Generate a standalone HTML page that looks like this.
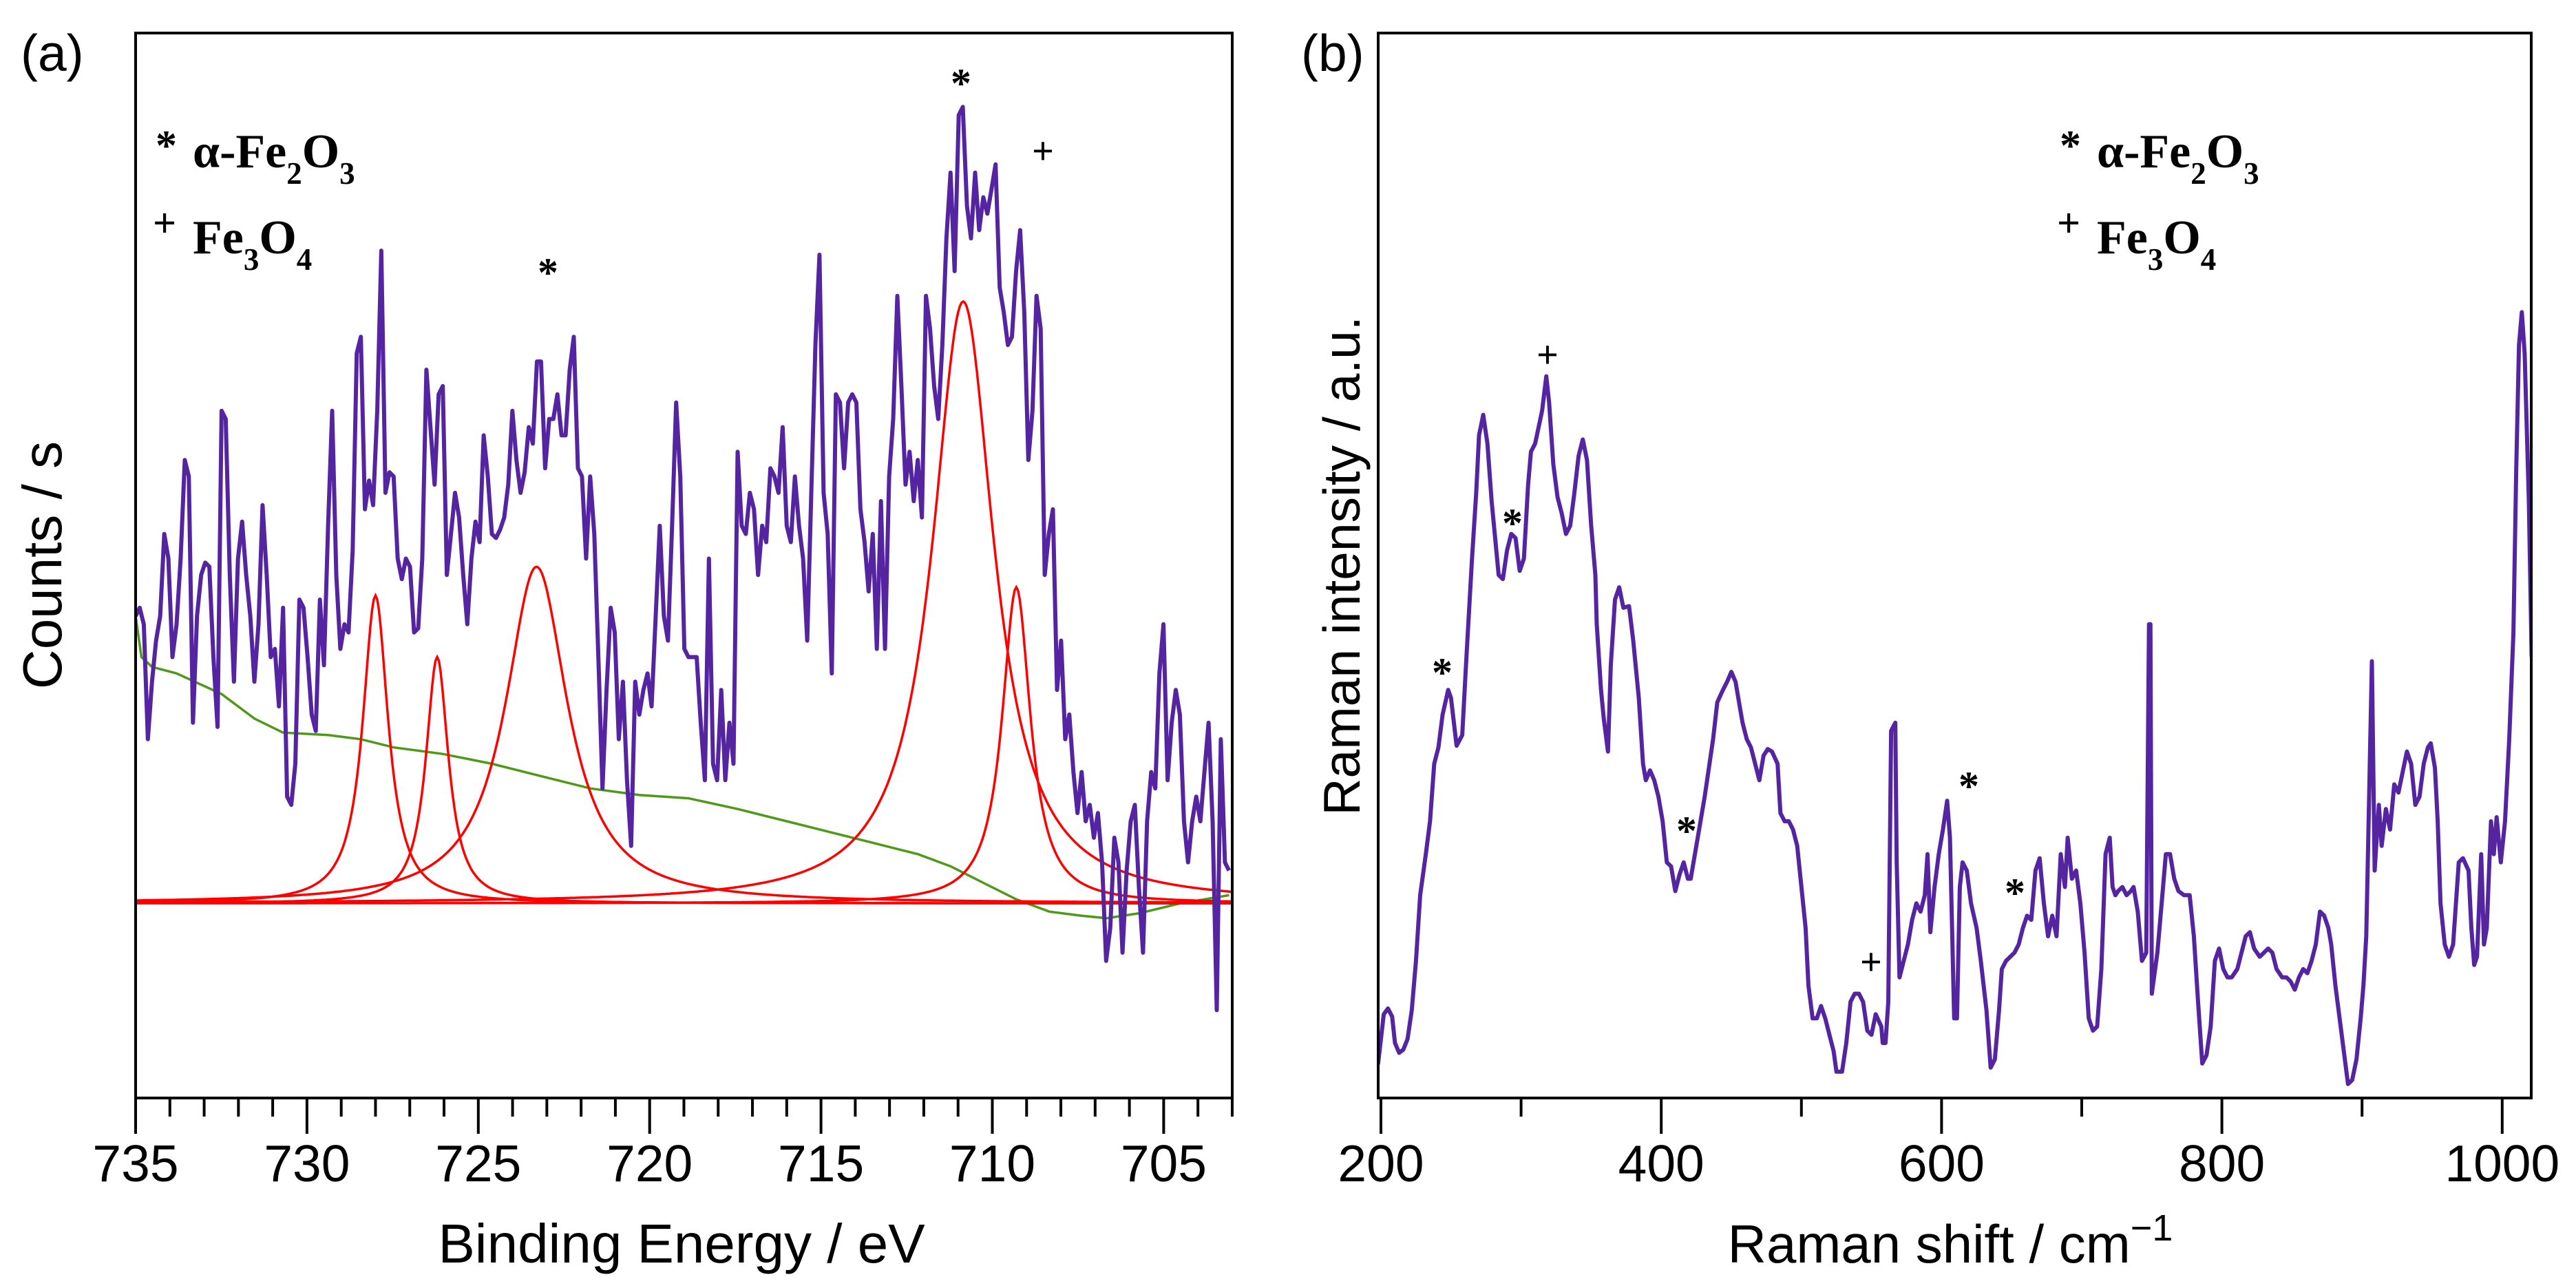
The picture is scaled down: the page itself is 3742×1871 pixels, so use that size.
<!DOCTYPE html>
<html><head><meta charset="utf-8"><style>
html,body{margin:0;padding:0;background:#fff;}
svg{display:block;}
text{font-family:"Liberation Sans",sans-serif;}
.leg{font-family:"Liberation Serif",serif;font-weight:bold;}
</style></head><body>
<svg id="chart" width="3742" height="1871" viewBox="0 0 3742 1871" xmlns="http://www.w3.org/2000/svg">
<rect x="0" y="0" width="3742" height="1871" fill="#fff"/>
<defs><clipPath id="clipA"><rect x="197" y="48" width="1593" height="1547"/></clipPath><clipPath id="clipB"><rect x="2002" y="48" width="1675" height="1547"/></clipPath></defs>
<g id="pa"></g>
<g id="pb"></g>
</svg>
<script>
// ---------- Panel (a) XPS data ----------
const xpsStart = 735, xpsStep = 0.1195;
const xpsCounts = [587,597,577,437,507,557,587,687,657,537,577,657,777,757,457,587,637,652,647,537,452,837,827,637,507,657,702,637,587,507,577,722,637,537,547,477,597,367,357,407,607,597,537,467,447,607,527,697,837,637,547,577,567,667,907,927,717,752,722,837,1032,737,762,757,657,632,657,647,567,572,657,887,817,747,857,867,637,687,737,707,637,577,657,702,677,807,757,687,682,692,707,747,837,777,737,762,817,797,897,897,767,827,827,857,807,807,887,927,767,757,657,757,687,537,377,497,597,567,437,507,387,307,507,467,497,517,477,587,697,587,557,697,847,757,547,537,537,537,457,387,657,407,387,497,387,457,407,787,697,687,737,717,637,697,677,767,757,737,817,697,677,757,697,657,557,737,917,1027,737,687,517,857,847,767,847,857,847,717,677,617,687,547,727,547,757,827,977,867,747,787,727,777,707,977,937,867,827,917,1047,1127,1007,1197,1207,1087,1047,1127,1057,1097,1077,1107,1137,987,957,917,927,1007,1057,957,777,837,977,937,637,687,717,497,557,437,467,397,347,397,337,357,317,347,287,167,207,317,287,177,277,337,357,257,177,337,397,377,517,577,387,457,497,467,337,287,337,367,337,397,457,337,107,437,287,277];
const peakCenters = [728.0, 726.2, 723.3, 710.85, 709.3];
const peakHeights = [375, 300, 410, 733, 385];
const peakFwhm = [0.9, 0.8, 2.2, 2.2, 1.0];
const fitBaseline = 237;
const bgEnergy = [735.0,734.83,734.52,733.8,732.49,731.53,730.70,729.38,728.43,727.47,726.04,724.60,723.17,721.73,720.30,718.87,717.43,716.0,714.56,713.13,712.17,711.21,710.26,709.30,708.34,707.39,706.67,705.71,704.52,703.09];
const bgCounts = [587,537,525,517,492,462,445,442,437,427,419,407,392,377,369,365,352,337,322,307,297,282,262,242,227,222,219,225,237,247];
const xpsTicks = [735,730,725,720,715,710,705];

// ---------- Panel (b) Raman data ----------
const ramanShift = [196,198,202,205,208,210,213,216,219,222,225,228,232,235,238,241,244,248,250,254,258,261,265,268,270,273,276,279,284,287,290,293,296,299,302,305,307,310,315,318,320,323,326,329,332,335,338,341,344,347,350,353,354,357,359,362,364,367,370,373,377,380,384,387,389,392,395,398,401,404,407,410,413,416,419,421,424,427,431,434,437,440,444,447,450,453,456,458,461,464,467,470,473,476,479,483,485,488,491,494,497,500,503,505,508,511,514,517,520,523,525,529,532,535,538,541,544,547,550,553,557,558,560,562,564,567,568,570,573,576,579,582,585,588,590,592,595,598,601,604,606,609,611,613,615,618,621,625,628,632,635,638,641,643,646,649,652,655,658,661,664,667,670,673,676,679,682,685,688,690,693,696,699,702,705,708,711,714,717,720,722,724,726,729,732,735,737,740,743,746,748,749,750,754,757,760,763,766,769,773,777,780,783,786,789,792,795,798,801,804,807,811,814,817,820,823,827,830,833,836,839,843,846,849,852,855,858,861,864,867,870,873,876,878,881,884,887,890,893,896,899,901,903,904,907,909,912,914,917,920,923,926,929,932,935,938,941,944,947,949,952,954,956,959,962,965,967,969,972,976,978,980,982,985,987,989,992,994,996,999,1002,1005,1008,1010,1012,1014,1016,1019,1021];
const ramanInt = [47,42,102,109,99,67,55,59,72,107,167,247,297,337,407,427,467,497,487,429,442,537,657,737,807,832,797,727,637,632,667,687,682,642,657,747,787,797,837,879,847,772,732,712,687,697,737,782,802,777,697,637,577,497,462,422,527,607,622,597,599,557,487,407,387,399,387,367,337,287,282,252,272,287,267,267,297,327,367,402,437,482,497,507,519,507,477,457,437,427,407,387,417,425,422,407,347,337,337,327,307,257,207,137,97,97,112,97,77,57,32,32,67,117,127,127,117,82,77,102,87,67,67,117,447,457,287,147,167,187,217,237,227,247,297,202,257,297,327,362,317,97,97,257,287,277,237,207,167,107,37,47,107,157,167,172,177,187,207,222,217,277,292,237,197,222,197,297,257,317,267,277,237,177,97,82,87,157,297,317,257,247,252,257,247,252,257,227,167,177,577,577,127,177,237,297,297,267,252,247,247,197,117,42,52,87,167,182,157,147,147,157,177,197,202,182,172,177,182,177,157,147,147,142,132,147,157,152,167,187,227,222,207,187,137,97,57,17,22,47,97,137,197,277,532,277,357,307,352,327,382,372,397,422,407,357,367,407,427,432,402,337,237,187,172,187,237,287,292,277,207,162,172,297,187,207,337,297,342,287,337,437,567,767,917,957,907,727,537,387,347,337];
const ramanTicks = [200,400,600,800,1000];
const ramanMinor = [300,500,700,900];

const NS = 'http://www.w3.org/2000/svg';
function mk(parent, tag, attrs, txt){
  const e = document.createElementNS(NS, tag);
  for (const k in attrs) e.setAttribute(k, attrs[k]);
  if (txt !== undefined) e.textContent = txt;
  parent.appendChild(e);
  return e;
}
const Y0 = 1595, Y1 = 48, VMAX = 1297;
const yS = v => Y0 - (v / VMAX) * (Y0 - Y1);
const FS = 75;

// ===== Panel A =====
const pa = document.getElementById('pa');
const aL = 197, aR = 1790;
const xA = e => 197 + (735 - e) * 49.78;

let d = bgEnergy.map((e, i) => (i ? 'L' : 'M') + xA(e).toFixed(1) + ' ' + yS(bgCounts[i]).toFixed(1)).join(' ');
let bg = mk(pa, 'path', {d: d, fill: 'none', stroke: '#4e9a18', 'stroke-width': 3.5, 'clip-path': 'url(#clipA)'});



peakCenters.forEach((c, k) => {
  let pts = [];
  for (let e = 735; e >= 702.9; e -= 0.05) {
    const u = (e - c) / (peakFwhm[k] / 2);
    const v = fitBaseline + peakHeights[k] / (1 + u * u);
    pts.push((pts.length ? 'L' : 'M') + xA(e).toFixed(1) + ' ' + yS(v).toFixed(1));
  }
  const p = mk(pa, 'path', {d: pts.join(' '), fill: 'none', stroke: '#ff0000', 'stroke-width': 3.5, 'clip-path': 'url(#clipA)'});
  
  
});

d = xpsCounts.map((v, i) => (i ? 'L' : 'M') + xA(xpsStart - i * xpsStep).toFixed(1) + ' ' + yS(v).toFixed(1)).join(' ');
let sp = mk(pa, 'path', {d: d, fill: 'none', stroke: '#5524a0', 'stroke-width': 6, 'stroke-linejoin': 'round', 'clip-path': 'url(#clipA)'});



let fr = mk(pa, 'rect', {x: aL, y: Y1, width: aR - aL, height: Y0 - Y1, fill: 'none', stroke: '#000', 'stroke-width': 4});


for (let e = 735; e >= 703; e--) {
  const major = (e % 5 === 0);
  mk(pa, 'line', {x1: xA(e), x2: xA(e), y1: Y0, y2: Y0 + (major ? 52 : 27), stroke: '#000', 'stroke-width': 4});
}
xpsTicks.forEach(t => {
  const tl = mk(pa, 'text', {x: xA(t), y: 1716, 'font-size': FS, 'text-anchor': 'middle'}, String(t));
  
  
});
let xt = mk(pa, 'text', {x: 990, y: 1834, 'font-size': 80, 'text-anchor': 'middle'}, 'Binding Energy / eV');


let yt = mk(pa, 'text', {x: 0, y: 0, 'font-size': 80, 'text-anchor': 'middle', transform: 'translate(89,821) rotate(-90)'}, 'Counts / s');


let la = mk(pa, 'text', {x: 30, y: 103, 'font-size': FS}, '(a)');



function legend(g, x, suffix){
  const l1 = mk(g, 'text', {x: x - 54, y: 232, 'font-size': 62, class: 'leg'}, '*');
  
  
  const t1 = mk(g, 'text', {x: x, y: 243, 'font-size': 70, class: 'leg'});
  
  
  t1.innerHTML = 'α-Fe<tspan font-size="45" dy="24">2</tspan><tspan dy="-24">O</tspan><tspan font-size="45" dy="24">3</tspan>';
  const l2 = mk(g, 'text', {x: x - 58, y: 344, 'font-size': 60, class: 'leg', 'font-weight': 'normal'}, '+');
  
  
  const t2 = mk(g, 'text', {x: x, y: 368, 'font-size': 70, class: 'leg'});
  
  
  t2.innerHTML = 'Fe<tspan font-size="45" dy="24">3</tspan><tspan dy="-24">O</tspan><tspan font-size="45" dy="24">4</tspan>';
}
legend(pa, 280, 'a');

function mark(g, x, y, s, name){
  const star = s === '*';
  const t = mk(g, 'text', {x: x, y: star ? y + 28 : y + 17, 'font-size': star ? 60 : 56, 'text-anchor': 'middle', class: 'leg', 'font-weight': star ? 'bold' : 'normal'}, s);
  
  
}
mark(pa, 1396, 113, '*', 'peak-marker-711');
mark(pa, 1515, 221, '+', 'peak-marker-709');
mark(pa, 796, 388, '*', 'peak-marker-723');

// ===== Panel B =====
const pb = document.getElementById('pb');
const bL = 2002, bR = 3677;
const xB = w => 2006 + (w - 200) * 2.036;
d = ramanShift.map((w, i) => (i ? 'L' : 'M') + xB(w).toFixed(1) + ' ' + yS(ramanInt[i]).toFixed(1)).join(' ');
let rs = mk(pb, 'path', {d: d, fill: 'none', stroke: '#5524a0', 'stroke-width': 6, 'stroke-linejoin': 'round', 'clip-path': 'url(#clipB)'});


let fb = mk(pb, 'rect', {x: bL, y: Y1, width: bR - bL, height: Y0 - Y1, fill: 'none', stroke: '#000', 'stroke-width': 4});


ramanTicks.forEach(t => {
  mk(pb, 'line', {x1: xB(t), x2: xB(t), y1: Y0, y2: Y0 + 52, stroke: '#000', 'stroke-width': 4});
  const tl = mk(pb, 'text', {x: xB(t), y: 1716, 'font-size': FS, 'text-anchor': 'middle'}, String(t));
  
  
});
ramanMinor.forEach(t => mk(pb, 'line', {x1: xB(t), x2: xB(t), y1: Y0, y2: Y0 + 27, stroke: '#000', 'stroke-width': 4}));
let xtb = mk(pb, 'text', {x: 2833, y: 1834, 'font-size': 78, 'text-anchor': 'middle'});


xtb.innerHTML = 'Raman shift / cm<tspan font-size="54" dy="-32">−1</tspan>';
let ytb = mk(pb, 'text', {x: 0, y: 0, 'font-size': FS, 'text-anchor': 'middle', transform: 'translate(1975,822) rotate(-90)'}, 'Raman intensity / a.u.');


let lb = mk(pb, 'text', {x: 1890, y: 103, 'font-size': FS}, '(b)');


legend(pb, 3046, 'b');
mark(pb, 2248, 517, '+', 'raman-marker-320');
mark(pb, 2197, 752, '*', 'raman-marker-293');
mark(pb, 2095, 969, '*', 'raman-marker-248');
mark(pb, 2450, 1199, '*', 'raman-marker-418');
mark(pb, 2718, 1399, '+', 'raman-marker-550');
mark(pb, 2860, 1134, '*', 'raman-marker-620');
mark(pb, 2927, 1289, '*', 'raman-marker-655');
</script>
</body></html>
